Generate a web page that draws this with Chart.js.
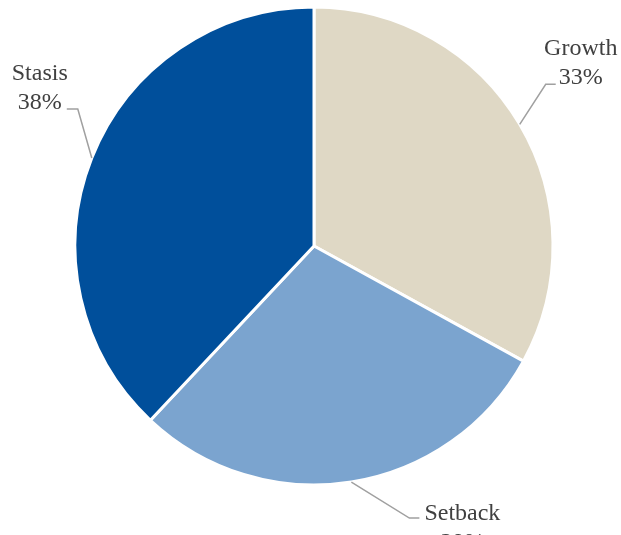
<!DOCTYPE html>
<html>
<head>
<meta charset="utf-8">
<script src="https://cdn.jsdelivr.net/npm/chart.js@4"></script>
<style>
html,body{margin:0;padding:0;background:#fff;}
#wrap{width:621px;height:535px;position:relative;overflow:hidden;}
</style>
</head>
<body>
<div id="wrap"><canvas id="c" width="621" height="535"></canvas></div>
<script>
const categories = ["Growth", "Setback", "Stasis"];
const shares = [33, 29, 38];
const sliceColors = ["#DFD8C5", "#7BA4CF", "#004F9B"];

const labelLayout = [
  { elbow: [26, -40], hook: 10, text: [25, -29] },
  { elbow: [58, 36], hook: 10, text: [43, 2] },
  { elbow: [-14, -49], hook: -11, text: [-27, -29] }
];

const leaderLabels = {
  id: 'leaderLabels',
  afterDatasetsDraw(chart) {
    const ctx = chart.ctx;
    const meta = chart.getDatasetMeta(0);
    ctx.save();
    meta.data.forEach((arc, i) => {
      const p = arc.getProps(['x','y','startAngle','endAngle','outerRadius'], true);
      const mid = (p.startAngle + p.endAngle) / 2;
      const sx = p.x + Math.cos(mid) * p.outerRadius;
      const sy = p.y + Math.sin(mid) * p.outerRadius;
      const L = labelLayout[i];
      const ex = sx + L.elbow[0], ey = sy + L.elbow[1];
      const hx = ex + L.hook;
      ctx.strokeStyle = '#A0A0A0';
      ctx.lineWidth = 1.5;
      ctx.beginPath();
      ctx.moveTo(sx, sy);
      ctx.lineTo(ex, ey);
      ctx.lineTo(hx, ey);
      ctx.stroke();
      ctx.fillStyle = '#404040';
      ctx.font = '24px "Liberation Serif", "Times New Roman", serif';
      ctx.textAlign = 'center';
      ctx.textBaseline = 'alphabetic';
      const tx = hx + L.text[0], ty = ey + L.text[1];
      ctx.fillText(categories[i], tx, ty);
      ctx.fillText(shares[i] + '%', tx, ty + 28.5);
    });
    ctx.restore();
  }
};

new Chart(document.getElementById('c'), {
  type: 'pie',
  data: {
    labels: categories,
    datasets: [{
      data: shares,
      backgroundColor: sliceColors,
      borderColor: '#ffffff',
      borderWidth: 3
    }]
  },
  options: {
    responsive: false,
    animation: false,
    radius: 239,
    layout: { padding: { left: 76, top: 8, right: 69, bottom: 51 } },
    plugins: { legend: { display: false }, tooltip: { enabled: false } }
  },
  plugins: [leaderLabels]
});
</script>
</body>
</html>
